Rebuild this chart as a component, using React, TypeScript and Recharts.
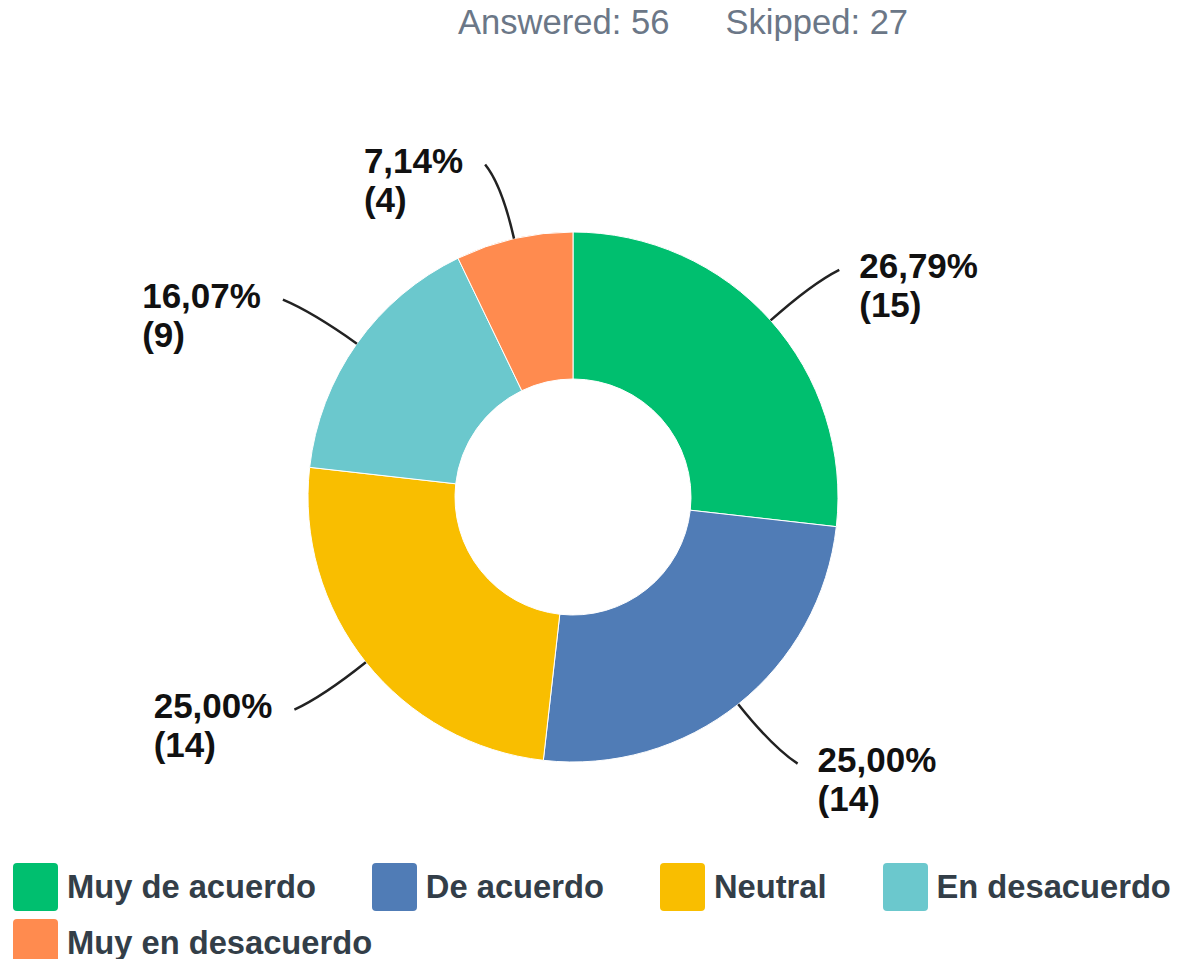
import React from 'react';
import { PieChart, Pie, Cell, Legend } from 'recharts';

const categories = ['Muy de acuerdo', 'De acuerdo', 'Neutral', 'En desacuerdo', 'Muy en desacuerdo'];
const counts = [15, 14, 14, 9, 4];
const colors = ['#00bf6f', '#507cb6', '#f9be00', '#6bc8cd', '#ff8b4f'];
const answered = 56;
const skipped = 27;

const data = categories.map((name, i) => ({ name, value: counts[i], color: colors[i] }));
const total = counts.reduce((a, b) => a + b, 0);

const LABEL_SIZE = 35;
const LABEL_FONT = `bold ${LABEL_SIZE}px 'Liberation Sans', Arial, sans-serif`;
let ctx: CanvasRenderingContext2D | null = null;
function measure(t: string): number {
  if (typeof document === 'undefined') return t.length * 19;
  if (!ctx) ctx = document.createElement('canvas').getContext('2d');
  if (!ctx) return t.length * 19;
  ctx.font = LABEL_FONT;
  return ctx.measureText(t).width;
}

const RAD = Math.PI / 180;

function renderLabel(props: any) {
  const { cx, cy, midAngle, outerRadius, value, index } = props;
  const dx = Math.cos(-midAngle * RAD);
  const dy = Math.sin(-midAngle * RAD);
  const sx = cx + outerRadius * dx;
  const sy = cy + outerRadius * dy;
  const sign = dx >= 0 ? 1 : -1;
  const c1x = cx + (outerRadius + 55) * dx;
  const c1y = cy + (outerRadius + 55) * dy;
  const ex = cx + (outerRadius + 76) * dx + sign * 12;
  const ey = cy + (outerRadius + 76) * dy;
  const pct = ((value / total) * 100).toFixed(2).replace('.', ',') + '%';
  const cnt = `(${value})`;
  const w = Math.max(measure(pct), measure(cnt));
  const tx = sign > 0 ? ex + 20 : ex - 22 - w;
  return (
    <g key={`lbl-${index}`}>
      <path d={`M${sx},${sy} Q${c1x},${c1y} ${ex},${ey}`} stroke="#222" strokeWidth={2.5} fill="none" />
      <text x={tx} y={ey + 8} fill="#111" fontFamily="'Liberation Sans', Arial, sans-serif" fontWeight="bold" fontSize={LABEL_SIZE} textAnchor="start">
        <tspan x={tx}>{pct}</tspan>
        <tspan x={tx} dy={39}>{cnt}</tspan>
      </text>
    </g>
  );
}

function LegendContent() {
  return (
    <div style={{ display: 'flex', flexWrap: 'wrap', columnGap: 56, rowGap: 8, width: 1166 }}>
      {data.map((d) => (
        <div key={d.name} style={{ display: 'flex', alignItems: 'center', height: 48 }}>
          <div style={{ width: 45, height: 48, background: d.color, borderRadius: 4, marginRight: 9 }} />
          <span style={{ fontFamily: "'Liberation Sans', Arial, sans-serif", fontWeight: 'bold', fontSize: 32.7, color: '#333e48', whiteSpace: 'nowrap' }}>{d.name}</span>
        </div>
      ))}
    </div>
  );
}

export default function App() {
  return (
    <div style={{ position: 'absolute', left: 0, top: 0, width: 1178, height: 959, background: '#fff', overflow: 'hidden' }}>
      <div style={{ position: 'absolute', left: 458, top: 3, fontFamily: "'Liberation Sans', Arial, sans-serif", fontSize: 34.6, color: '#6b7787', whiteSpace: 'nowrap' }}>
        <span>Answered: {answered}</span>
        <span style={{ marginLeft: 56 }}>Skipped: {skipped}</span>
      </div>
      <PieChart width={1178} height={959} margin={{ top: 0, right: 0, bottom: 0, left: 0 }} style={{ position: 'absolute', left: 0, top: 0 }}>
        <Pie
          data={data}
          dataKey="value"
          nameKey="name"
          cx={573}
          cy={497}
          innerRadius={118}
          outerRadius={265}
          startAngle={90}
          endAngle={-270}
          stroke="#fff"
          strokeWidth={1}
          label={renderLabel}
          labelLine={false}
          isAnimationActive={false}
        >
          {data.map((d) => (
            <Cell key={d.name} fill={d.color} />
          ))}
        </Pie>
        <Legend content={<LegendContent />} wrapperStyle={{ position: 'absolute', left: 13, top: 863, width: 1166 }} />
      </PieChart>
    </div>
  );
}
